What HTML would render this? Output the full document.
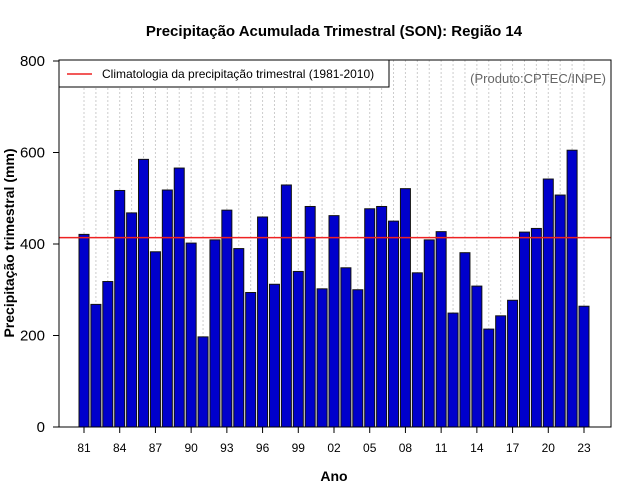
<!DOCTYPE html>
<html><head><meta charset="utf-8"><style>
body{margin:0;background:#fff;}
svg{display:block;font-family:"Liberation Sans",sans-serif;}
</style></head><body>
<svg id="chart" width="640" height="500">
<text x="334" y="36" text-anchor="middle" font-size="15" font-weight="bold">Precipitação Acumulada Trimestral (SON): Região 14</text>
<g id="grid"></g>
<g id="bars"></g>
<line id="clim" stroke="#ee2222" stroke-width="1.5"></line>
<rect x="59" y="60" width="552" height="367" fill="none" stroke="#000"></rect>
<g id="yaxis"></g>
<g id="xaxis"></g>
<text x="334" y="481" text-anchor="middle" font-size="14" font-weight="bold">Ano</text>
<text transform="translate(14,243) rotate(-90)" text-anchor="middle" font-size="14" font-weight="bold">Precipitação trimestral (mm)</text>
<g>
<rect x="59" y="60" width="330" height="27" fill="#fff" stroke="#000"></rect>
<line x1="67" y1="74" x2="92" y2="74" stroke="#ee2222" stroke-width="1.5"></line>
<text x="102" y="78" font-size="12">Climatologia da precipitação trimestral (1981-2010)</text>
</g>
<text x="606" y="83" text-anchor="end" font-size="13" fill="#666">(Produto:CPTEC/INPE)</text>
</svg>
<script>
const years=[1981,1982,1983,1984,1985,1986,1987,1988,1989,1990,1991,1992,1993,1994,1995,1996,1997,1998,1999,2000,2001,2002,2003,2004,2005,2006,2007,2008,2009,2010,2011,2012,2013,2014,2015,2016,2017,2018,2019,2020,2021,2022,2023];
const values=[421,268,318,517,468,585,383,518,566,402,197,409,474,390,294,459,312,529,340,482,302,462,348,300,477,482,450,521,337,409,427,249,381,308,214,243,277,426,434,542,507,605,264];
const climatology=414;
const yTicks=[0,200,400,600,800];
const xTickYears=[1981,1984,1987,1990,1993,1996,1999,2002,2005,2008,2011,2014,2017,2020,2023];
const NS='http://www.w3.org/2000/svg';
const y=v=>427-v*366/800;
const x=yr=>84+(yr-1981)*500/42;
const bw=10;
const grid=document.getElementById('grid'),bars=document.getElementById('bars');
function mk(t,a,p){const e=document.createElementNS(NS,t);for(const k in a)e.setAttribute(k,a[k]);p.appendChild(e);return e;}
years.forEach(yr=>{
 const g=mk('line',{x1:x(yr),x2:x(yr),y1:60,y2:427,stroke:'#ccc','stroke-dasharray':'2,2'},grid);
 
 
});
years.forEach((yr,i)=>{
 const r=mk('rect',{x:x(yr)-bw/2,y:y(values[i]),width:bw,height:427-y(values[i]),fill:'#0000cc',stroke:'#111','stroke-width':1},bars);
 
 
});
const c=document.getElementById('clim');
c.setAttribute('x1',59);c.setAttribute('x2',611);c.setAttribute('y1',y(climatology));c.setAttribute('y2',y(climatology));
const ya=document.getElementById('yaxis');
yTicks.forEach(v=>{
 const l=mk('line',{x1:53,x2:59,y1:y(v),y2:y(v),stroke:'#000'},ya);
 
 
 const t=mk('text',{x:45,y:y(v)+5,'text-anchor':'end','font-size':15},ya);
 t.textContent=v;
 
 
});
const xa=document.getElementById('xaxis');
xTickYears.forEach(yr=>{
 const l=mk('line',{x1:x(yr),x2:x(yr),y1:427,y2:433,stroke:'#000'},xa);
 
 
 const t=mk('text',{x:x(yr),y:452,'text-anchor':'middle','font-size':12},xa);
 t.textContent=String(yr%100).padStart(2,'0');
 
 
});
</script>
</body></html>
